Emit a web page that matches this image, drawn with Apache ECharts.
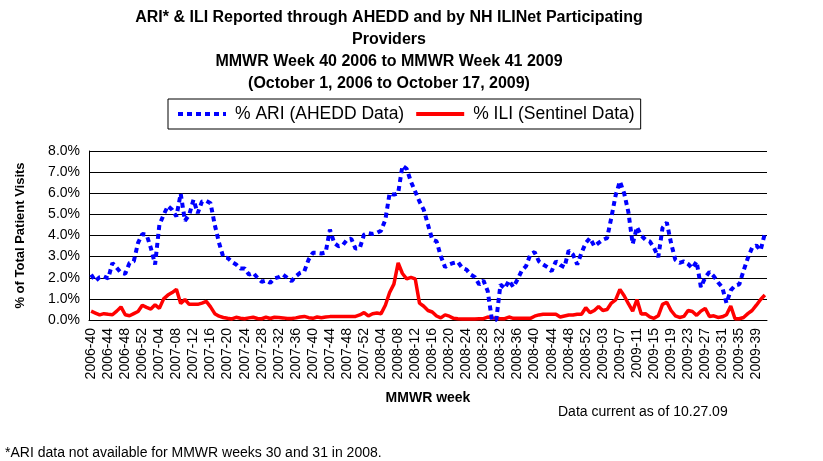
<!DOCTYPE html>
<html>
<head>
<meta charset="utf-8">
<script src="https://cdn.jsdelivr.net/npm/echarts@6/dist/echarts.min.js"></script>
<style>
  html, body { margin: 0; padding: 0; background: #fff; }
  #chart { width: 823px; height: 461px; }
</style>
</head>
<body>
<div id="chart"></div>
<script>
// MMWR weeks per season: [year, first week, last week]
var weekRanges = [[2006, 40, 52], [2007, 1, 52], [2008, 1, 53], [2009, 1, 41]];

// % ARI (AHEDD Data), weeks 2008-30/31 have no data (plotted as 0)
var ari = [
  2.15, 1.84, 2.03, 2.06, 1.97, 2.70, 2.47, 2.23, 2.19, 2.70, 2.78, 3.65, 4.07,
  4.04, 3.41, 2.63, 4.50, 4.98, 5.40, 5.22, 4.90, 5.98, 4.70, 4.98, 5.69, 5.06,
  5.61, 5.64, 5.53, 4.50, 3.65, 2.97, 2.94, 2.75, 2.63, 2.44, 2.44, 2.15, 2.23,
  2.00, 1.81, 1.87, 1.76, 1.97, 2.03, 2.15, 2.00, 1.84, 2.07, 2.23, 2.31, 2.86,
  3.18, 3.18, 3.15, 3.20, 4.28, 3.65, 3.49, 3.54, 3.80, 3.85, 3.38, 3.40, 4.04,
  4.12, 4.07, 4.12, 4.23, 4.75, 6.00, 5.93, 6.00, 7.30, 7.15, 6.55, 6.08, 5.61,
  5.22, 4.51, 3.80, 3.73, 3.02, 2.50, 2.63, 2.70, 2.75, 2.47, 2.39, 2.15, 2.03,
  1.68, 1.87, 1.37, 0.00, 0.00, 1.68, 1.49, 1.87, 1.56, 1.92, 2.34, 2.55, 3.10,
  3.22, 2.78, 2.63, 2.50, 2.31, 2.78, 2.60, 2.50, 3.29, 3.10, 2.63, 3.18, 3.65,
  3.88, 3.49, 3.65, 3.80, 3.88, 4.85, 5.90, 6.56, 6.00, 5.10, 3.60, 4.40, 4.00,
  3.80, 3.72, 3.42, 2.97, 4.36, 4.62, 3.64, 2.85, 2.70, 2.77, 2.65, 2.45, 2.77,
  1.55, 2.01, 2.28, 2.08, 1.79, 1.55, 0.80, 1.40, 1.63, 1.69, 2.33, 2.93, 3.42,
  3.53, 3.30, 4.10
];

// % ILI (Sentinel Data)
var ili = [
  0.42, 0.33, 0.24, 0.30, 0.27, 0.25, 0.42, 0.62, 0.25, 0.20, 0.30, 0.40, 0.70,
  0.60, 0.52, 0.72, 0.55, 1.00, 1.18, 1.30, 1.45, 0.78, 0.97, 0.74, 0.74, 0.74,
  0.80, 0.88, 0.62, 0.30, 0.18, 0.12, 0.08, 0.05, 0.13, 0.08, 0.06, 0.10, 0.13,
  0.07, 0.06, 0.13, 0.07, 0.13, 0.12, 0.10, 0.07, 0.07, 0.10, 0.14, 0.17, 0.11,
  0.08, 0.14, 0.11, 0.14, 0.16, 0.16, 0.16, 0.16, 0.16, 0.16, 0.17, 0.24, 0.35,
  0.19, 0.30, 0.33, 0.30, 0.70, 1.30, 1.70, 2.70, 2.20, 1.95, 2.02, 1.95, 0.80,
  0.65, 0.45, 0.38, 0.19, 0.10, 0.24, 0.18, 0.08, 0.06, 0.05, 0.05, 0.05, 0.05,
  0.06, 0.06, 0.14, 0.10, 0.08, 0.06, 0.06, 0.14, 0.08, 0.08, 0.08, 0.08, 0.08,
  0.18, 0.24, 0.27, 0.27, 0.27, 0.27, 0.14, 0.19, 0.24, 0.24, 0.27, 0.27, 0.58,
  0.35, 0.45, 0.64, 0.45, 0.50, 0.80, 0.95, 1.45, 1.15, 0.77, 0.42, 0.97, 0.28,
  0.30, 0.15, 0.08, 0.20, 0.74, 0.84, 0.45, 0.20, 0.12, 0.17, 0.45, 0.40, 0.22,
  0.42, 0.55, 0.17, 0.20, 0.12, 0.15, 0.25, 0.66, 0.06, 0.06, 0.12, 0.30, 0.45,
  0.70, 0.97, 1.18
];

var yTicks = [0, 1, 2, 3, 4, 5, 6, 7, 8];

// category labels "YYYY-WW"
var weeks = [];
weekRanges.forEach(function (r) {
    for (var w = r[1]; w <= r[2]; w++) {
        weeks.push(r[0] + '-' + (w < 10 ? '0' + w : w));
    }
});

var FONT = '"Liberation Sans", Arial, sans-serif';

var myChart = echarts.init(document.getElementById('chart'));

var option = {
    animation: false,
    backgroundColor: '#fff',
    textStyle: { fontFamily: FONT, color: '#000' },
    grid: { left: 89, right: 56, top: 151, bottom: 141 },
    legend: {
        left: 168,
        top: 99,
        padding: [6, 6, 6, 8],
        itemGap: 10,
        itemWidth: 48,
        itemHeight: 14,
        borderColor: '#000',
        borderWidth: 1,
        // hide the marker circle, keep only the line sample
        itemStyle: { opacity: 0 },
        textStyle: { fontFamily: FONT, fontSize: 17.5, color: '#000', padding: [0, 0, 0, 4] },
        data: [
            { name: '% ARI (AHEDD Data)', lineStyle: { width: 4 } },
            { name: '% ILI (Sentinel Data)', lineStyle: { width: 4 } }
        ]
    },
    xAxis: {
        type: 'category',
        data: weeks,
        boundaryGap: true,
        axisLine: { lineStyle: { color: '#000', width: 1 } },
        axisTick: { interval: 0, length: 5, lineStyle: { color: '#000' } },
        axisLabel: {
            interval: 3,
            rotate: 90,
            margin: 8,
            fontSize: 14,
            color: '#000',
            fontFamily: FONT
        },
        name: 'MMWR week',
        nameLocation: 'middle',
        nameGap: 71,
        nameTextStyle: { fontSize: 14, fontWeight: 'bold', color: '#000', fontFamily: FONT }
    },
    yAxis: {
        type: 'value',
        min: yTicks[0],
        max: yTicks[yTicks.length - 1],
        interval: 1,
        axisLine: { show: true, lineStyle: { color: '#000', width: 1 } },
        axisTick: { show: false },
        splitLine: { lineStyle: { color: '#000', width: 1 } },
        axisLabel: {
            margin: 9,
            fontSize: 14,
            color: '#000',
            fontFamily: FONT,
            formatter: function (v) { return v.toFixed(1) + '%'; }
        },
        name: '% of Total Patient Visits',
        nameLocation: 'middle',
        nameGap: 62,
        nameTextStyle: { fontSize: 13, fontWeight: 'bold', color: '#000', fontFamily: FONT }
    },
    series: [
        {
            name: '% ARI (AHEDD Data)',
            type: 'line',
            data: ari,
            symbol: 'none',
            color: '#0000ff',
            lineStyle: { color: '#0000ff', width: 4, type: [5, 4], cap: 'butt' },
            z: 3
        },
        {
            name: '% ILI (Sentinel Data)',
            type: 'line',
            data: ili,
            symbol: 'none',
            color: '#ff0000',
            lineStyle: { color: '#ff0000', width: 3.5 },
            z: 2
        }
    ],
    graphic: [
        {
            type: 'text', x: 389, y: 7,
            style: {
                text: 'ARI* & ILI Reported through AHEDD and by NH ILINet Participating\nProviders\nMMWR Week 40 2006 to MMWR Week 41 2009\n(October 1, 2006 to October 17, 2009)',
                font: 'bold 16px ' + FONT,
                lineHeight: 22,
                align: 'center',
                verticalAlign: 'top',
                fill: '#000'
            }
        },
        {
            type: 'text', left: 558, top: 405,
            style: { text: 'Data current as of 10.27.09', font: '14px ' + FONT, fill: '#000' }
        },
        {
            type: 'text', left: 5, top: 446,
            style: { text: '*ARI data not available for MMWR weeks 30 and 31 in 2008.', font: '14px ' + FONT, fill: '#000' }
        }
    ]
};

myChart.setOption(option);

window.onresize = function () {
    myChart.resize();
};
</script>
</body>
</html>
